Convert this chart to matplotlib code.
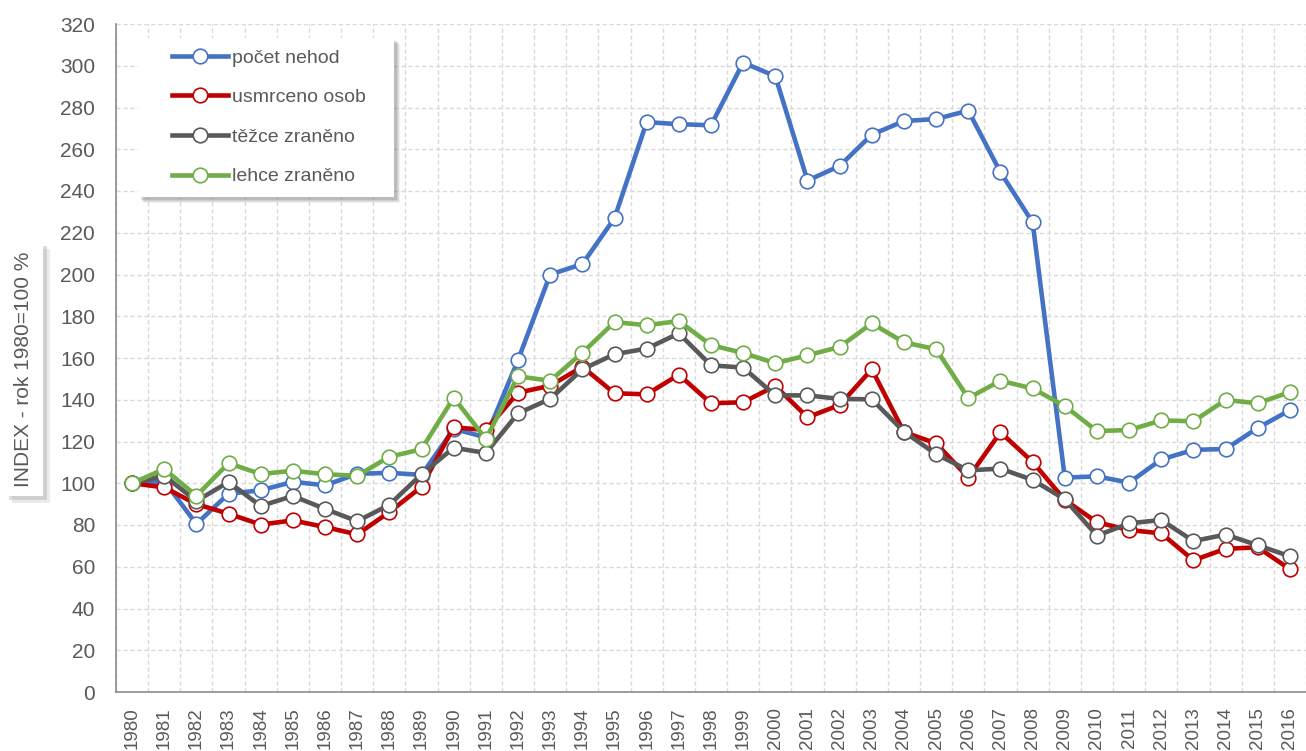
import matplotlib
matplotlib.use("Agg")
import matplotlib.pyplot as plt
import matplotlib.patheffects as pe
from matplotlib.patches import Rectangle
import numpy as np

#data (index, rok 1980 = 100)
years = list(range(1980, 2017))
nehody = [100, 101, 80.5, 95, 96.6, 100.7, 99, 104.5, 105, 104,
          126, 122, 159, 200, 205, 227, 273, 272, 271.5, 301.5,
          295, 245, 252, 267, 273.5, 274.5, 278.5, 249, 225, 102.7,
          103.3, 100.3, 111.4, 116, 116.4, 126.5, 135]
usmrceno = [100, 98, 90, 85.4, 80.2, 82.2, 79, 75.5, 86.2, 98.3,
            126.8, 125.5, 143.4, 146.7, 155.8, 143.1, 142.6, 152, 138.3, 138.8,
            146.6, 131.6, 137.5, 154.6, 124.5, 119.1, 102.7, 124.4, 110.2, 92,
            81.3, 77.6, 76, 63.1, 68.6, 69.3, 58.8]
tezce = [100, 103.6, 91.5, 100.6, 89.1, 93.9, 87.7, 81.8, 89.7, 104.3,
         117, 114.5, 133.5, 140.4, 154.6, 161.8, 164.5, 171.8, 156.5, 155.4,
         142.1, 142.1, 140.4, 140.2, 124.7, 113.9, 106.2, 107, 101.6, 92.3,
         74.9, 80.8, 82.4, 72.3, 75.4, 70.3, 65]
lehce = [100, 106.8, 94, 109.6, 104.4, 106, 104.3, 103.6, 112.7, 116.3,
         141, 121.2, 151.2, 149.1, 162.5, 177.2, 175.7, 177.7, 166.2, 162.4,
         157.5, 161.3, 165.3, 176.6, 167.5, 164.2, 140.8, 149.1, 145.4, 137,
         125, 125.5, 130.1, 129.7, 139.9, 138.3, 143.7]

series = [("počet nehod", nehody, "#4472C4"),
          ("usmrceno osob", usmrceno, "#C00000"),
          ("těžce zraněno", tezce, "#595959"),
          ("lehce zraněno", lehce, "#70AD47")]

fonts = ["Liberation Sans", "DejaVu Sans"]
txtc = "#595959"
W, H = 1306, 751

fig = plt.figure(figsize=(W / 100, H / 100), dpi=100)
ax = fig.add_axes([116 / W, 1 - 692 / H, 1 - 116 / W, 668 / H])

for name, vals, col in series:
    ax.plot(years, vals, color=col, lw=3.3, marker="o", ms=10.5,
            mfc="white", mec=col, mew=1.2, label=name)

ax.set_xlim(1979.5, 2016.5)
ax.set_ylim(0, 320)
ax.set_yticks(range(0, 321, 20))
ax.set_xticks(years)
ax.set_xticks(np.arange(1979.5, 2017, 1), minor=True)
ax.grid(False)
ax.grid(True, which="minor", axis="x", color="#D9D9D9", ls=(0, (3, 2)), lw=1)
ax.grid(True, which="major", axis="y", color="#D9D9D9", ls=(0, (3, 2)), lw=1)
ax.set_axisbelow(True)

ax.tick_params(axis="both", which="both", length=0)
ax.tick_params(axis="y", pad=15)
ax.tick_params(axis="x", pad=11)
for lab in ax.get_yticklabels():
    lab.set_family(fonts)
    lab.set_fontsize(15)
    lab.set_color(txtc)
ax.set_xticklabels([str(y) for y in years], rotation=90, family=fonts,
                   fontsize=13.5, color=txtc)

for s in ["top", "right"]:
    ax.spines[s].set_visible(False)
for s in ["left", "bottom"]:
    ax.spines[s].set_color("#8C8C8C")
    ax.spines[s].set_linewidth(1.2)

# legend box with soft shadow (inside the axes so the legend sits on top)
for d, a in [(6, 0.10), (5, 0.14), (4, 0.18), (3, 0.22)]:
    ax.add_patch(Rectangle((138 / W + d / W, 1 - 197 / H - d / H),
                           256 / W, 159 / H, transform=fig.transFigure,
                           fc="#7F7F7F", ec="none", alpha=a, zorder=5,
                           clip_on=False))
ax.add_patch(Rectangle((138 / W, 1 - 197 / H), 256 / W, 159 / H,
                       transform=fig.transFigure, fc="white", ec="none",
                       zorder=6, clip_on=False))

leg = ax.legend(loc="upper left", bbox_to_anchor=(172 / W, 1 - 49 / H),
                bbox_transform=fig.transFigure,
                prop={"family": fonts, "size": 14}, frameon=False,
                handlelength=2.88, handletextpad=0.2, labelspacing=1.13,
                borderpad=0, borderaxespad=0)
leg.set_zorder(7)
for t in leg.get_texts():
    t.set_color(txtc)

yl = fig.text(24 / W, 1 - 369 / H, "INDEX - rok 1980=100 %", rotation=90,
              ha="center", va="center", fontsize=15, color=txtc,
              family=fonts,
              bbox=dict(boxstyle="square,pad=0.45", fc="white", ec="none"))
yl.get_bbox_patch().set_path_effects(
    [pe.SimplePatchShadow(offset=(5, -5), shadow_rgbFace="#7F7F7F", alpha=0.15),
     pe.SimplePatchShadow(offset=(3, -3), shadow_rgbFace="#7F7F7F", alpha=0.25),
     pe.Normal()])

fig.savefig("out.png", dpi=100)
